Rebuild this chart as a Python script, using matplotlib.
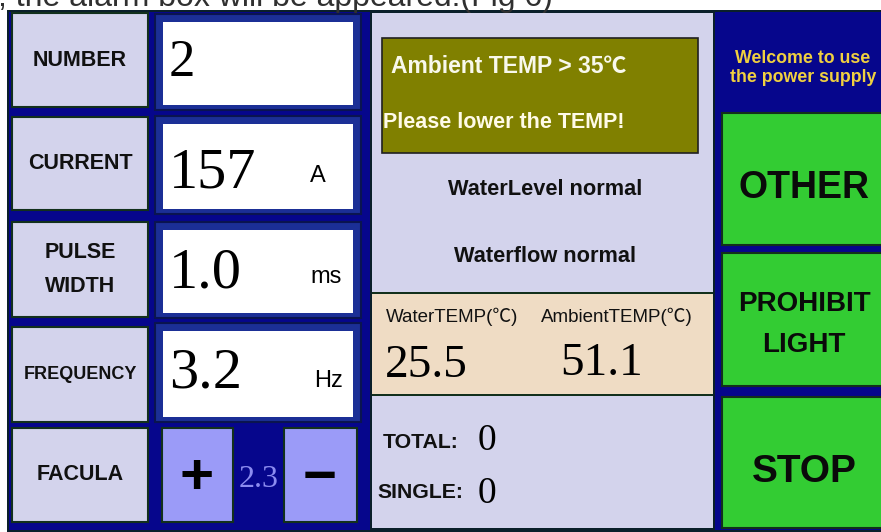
import matplotlib
matplotlib.use('Agg')
import matplotlib.pyplot as plt
from matplotlib.patches import Rectangle

# screen contents
caption = ', the alarm box will be appeared.(Fig 6)'
field_labels = ['NUMBER', 'CURRENT', 'PULSE\nWIDTH', 'FREQUENCY', 'FACULA']
field_values = ['2', '157', '1.0', '3.2']
field_units = ['', 'A', 'ms', 'Hz']
facula_level = '2.3'
alarm_lines = ['Ambient TEMP > 35℃', 'Please lower the TEMP!']
status_lines = ['WaterLevel normal', 'Waterflow normal']
temp_names = ['WaterTEMP(℃)', 'AmbientTEMP(℃)']
temp_values = [25.5, 51.1]
count_names = ['TOTAL:', 'SINGLE:']
count_values = [0, 0]
welcome_lines = ['Welcome to use', 'the power supply']
button_labels = ['OTHER', 'PROHIBIT\nLIGHT', 'STOP']

NAVY = '#06068c'
LAV = '#d3d3ec'
BEIGE = '#efdcc4'
GREEN = '#33cc33'
OLIVE = '#808000'
EDGE = '#12301c'
FRAME = '#1b2f96'
BTN = '#9b9bf8'

SANS = ['Liberation Sans', 'DejaVu Sans']
SANS_C = ['Liberation Sans', 'Noto Sans CJK SC', 'DejaVu Sans']
SERIF = ['Liberation Serif', 'DejaVu Serif']

fig = plt.figure(figsize=(8.81, 5.32), dpi=100)
ax = fig.add_axes([0, 0, 1, 1])
ax.set_xlim(0, 881)
ax.set_ylim(532, 0)
ax.axis('off')


def box(x0, y0, x1, y1, fc, ec=None, lw=0.0):
    ax.add_patch(Rectangle((x0, y0), x1 - x0, y1 - y0, facecolor=fc,
                           edgecolor=ec if ec else fc, linewidth=lw))


# caption cut off at the top of the screenshot
ax.text(-2, 6, caption, family=SANS, fontsize=23,
        color='#303030', va='baseline', ha='left')

# screen frame and panels
box(7, 10, 881, 532, '#0a1f2a')
box(9, 12, 370, 530, NAVY)
box(372, 13, 713, 528, LAV)
box(372, 292, 713, 396, EDGE)
box(372, 294, 713, 394, BEIGE)
box(715, 12, 881, 530, NAVY)

# left column: labels
label_rows = [(13, 107), (117, 210), (222, 317), (327, 422), (428, 522)]
label_sizes = [15.5, 15.5, 15.5, 13, 15.5]
for (y0, y1), lab, fs in zip(label_rows, field_labels, label_sizes):
    box(12, y0, 148, y1, LAV, EDGE, 1.5)
    parts = lab.split('\n')
    yc = (y0 + y1) / 2
    for i, p in enumerate(parts):
        yy = yc + (i - (len(parts) - 1) / 2) * 33
        ax.text(80, yy, p, family=SANS, fontsize=fs, fontweight='bold',
                color='#111111', ha='center', va='center')

# value boxes
white_rows = [(22, 105), (124, 209), (230, 313), (331, 417)]
value_base = [76, 187, 287, 387]
value_sizes = [38, 42, 42, 42]
unit_x = [0, 318, 326, 328]
unit_base = [0, 182, 283, 387]
for (y0, y1), v, u, vb, vs, ux, ub in zip(white_rows, field_values, field_units,
                                          value_base, value_sizes, unit_x, unit_base):
    box(155, y0 - 8, 361, y1 + 5, FRAME, '#0a1450', 1.5)
    box(163, y0, 353, y1, 'white')
    ax.text(169, vb, v, family=SERIF, fontsize=vs, color='black',
            ha='left', va='baseline')
    if u:
        ax.text(ux, ub, u, family=SANS, fontsize=17, color='black',
                ha='center', va='baseline')

# facula +/- buttons
box(162, 428, 233, 522, BTN, EDGE, 1.5)
box(284, 428, 357, 522, BTN, EDGE, 1.5)
ax.text(197, 494, '+', family=SANS, fontsize=42,
        fontweight='bold', color='black', ha='center', va='baseline')
ax.text(320, 494, '\u2212', family=SANS, fontsize=42,
        fontweight='bold', color='black', ha='center', va='baseline')
ax.text(259, 487, facula_level, family=SERIF, fontsize=23, color='#8c8cf0',
        ha='center', va='baseline')

# alarm box
box(382, 38, 698, 153, OLIVE, '#202020', 1.2)
ax.text(391, 73, alarm_lines[0], family=SANS_C, fontsize=16.5, fontweight='bold',
        color='#f8f8ec', ha='left', va='baseline')
ax.text(383, 128, alarm_lines[1], family=SANS_C, fontsize=15.5, fontweight='bold',
        color='#fffbe8', ha='left', va='baseline')

# status
for txt, yb in zip(status_lines, [195, 262]):
    ax.text(545, yb, txt, family=SANS, fontsize=15.7, fontweight='bold',
            color='#111111', ha='center', va='baseline')

# temperatures
for name, val, xn, xv, yv in zip(temp_names, temp_values, [386, 541], [385, 560], [377, 375]):
    ax.text(xn, 322, name, family=SANS_C, fontsize=13.5, color='#111111',
            ha='left', va='baseline')
    ax.text(xv, yv, f'{val:.1f}', family=SERIF, fontsize=34, color='black',
            ha='left', va='baseline')

# counters
for name, val, xn, yn, yv in zip(count_names, count_values, [383, 377], [448, 498], [450, 503]):
    ax.text(xn, yn, name, family=SANS, fontsize=15.3, fontweight='bold',
            color='#111111', ha='left', va='baseline')
    ax.text(478, yv, str(val), family=SERIF, fontsize=27, color='black',
            ha='left', va='baseline')

# right column
for txt, yb in zip(welcome_lines, [63, 82]):
    ax.text(803, yb, txt, family=SANS, fontsize=12.8, fontweight='bold',
            color='#f0d040', ha='center', va='baseline')

button_rows = [(113, 245), (253, 386), (397, 528)]
button_base = [[198], [311, 352], [482]]
button_sizes = [27, 20, 28]
for (y0, y1), lab, bases, fs in zip(button_rows, button_labels, button_base, button_sizes):
    box(722, y0, 883, y1, GREEN, EDGE, 1.5)
    for p, yb in zip(lab.split('\n'), bases):
        ax.text(804, yb, p, family=SANS, fontsize=fs, fontweight='bold',
                color='#0a0a0a', ha='center', va='baseline')

fig.savefig('out.png', dpi=100)
